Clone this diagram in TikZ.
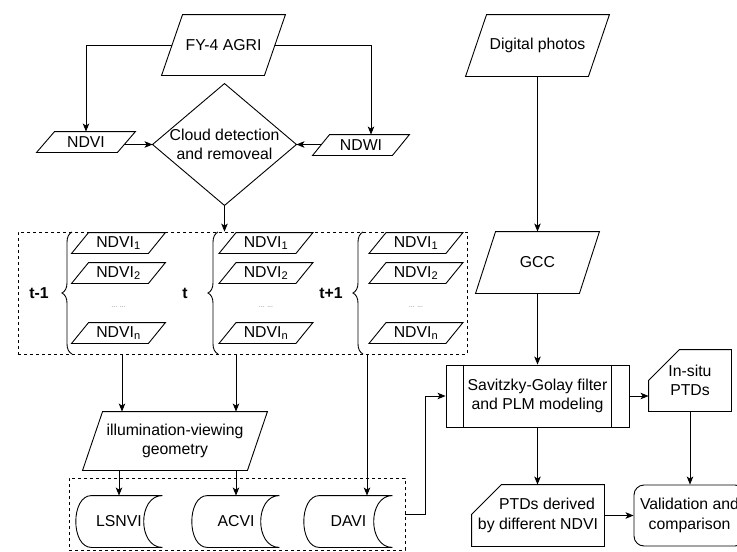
\documentclass[tikz,border=0pt]{standalone}
\usepackage{fontspec}
\setmainfont{Liberation Sans}
\usetikzlibrary{arrows.meta,decorations.pathreplacing,calc}
\newcommand\parashape[2]{\draw ([xshift=#2]#1.north west) -- (#1.north east) -- ([xshift=-#2]#1.south east) -- (#1.south west) -- cycle;}
\newcommand\diashape[1]{\draw (#1.north) -- (#1.east) -- (#1.south) -- (#1.west) -- cycle;}
\newcommand\storeshape[2]{\draw ([xshift=#2]#1.north west) -- (#1.north east)
   .. controls ([xshift=-25pt]#1.north east) and ([xshift=-25pt]#1.south east) .. (#1.south east)
   -- ([xshift=#2]#1.south west)
   .. controls ([xshift=#2-21pt]#1.south west) and ([xshift=#2-21pt]#1.north west) .. ([xshift=#2]#1.north west) -- cycle;}
\newcommand\cardshape[2]{\draw ([yshift=-#2]#1.north west) -- ([xshift=#2]#1.north west) -- (#1.north east) -- (#1.south east) -- (#1.south west) -- cycle;}
\begin{document}
\begin{tikzpicture}[x=1pt,y=-1pt,line width=0.9pt,
  font=\fontsize{15.8}{19.5}\selectfont,
  >={Stealth[length=8pt,width=6.5pt,inset=2pt]},
  shp/.style={inner sep=0pt,align=center},
  dashbox/.style={draw,dash pattern=on 3pt off 3pt,line width=0.8pt,inner sep=0pt},
  tlabel/.style={font=\fontsize{15.8}{19}\selectfont\bfseries},
  dotlabel/.style={font=\fontsize{7}{8}\selectfont,text=gray},
  bracestyle/.style={decorate,decoration={brace,amplitude=10pt}},
  conn/.style={->}]
\useasboundingbox (0,0) rectangle (737,552);
\clip (0,0) rectangle (737,552);

% ---------- top left ----------
\node[shp,minimum width=123pt,minimum height=60pt] (fy) at (223.5,45) {FY-4 AGRI};
\parashape{fy}{21pt}
\node[shp,minimum width=98pt,minimum height=20pt] (ndvi) at (86,142) {NDVI};
\parashape{ndvi}{18pt}
\node[shp,minimum width=96pt,minimum height=20pt] (ndwi) at (361,145) {NDWI};
\parashape{ndwi}{17pt}
\node[shp,minimum width=143pt,minimum height=121pt] (dia) at (224.5,144.5) {Cloud detection\\and removeal};
\diashape{dia}

\draw[conn] ([xshift=10.5pt]fy.west) -| (ndvi.north);
\draw[conn] ([xshift=-10.5pt]fy.east) -| ([xshift=10pt]ndwi.north);
\draw[conn] ([xshift=-11pt]ndvi.east |- dia.west) -- (dia.west);
\draw[conn] ([xshift=9pt]ndwi.west |- dia.east) -- (dia.east);

% ---------- time groups ----------
\node[dashbox,minimum width=449pt,minimum height=122pt] (grp) at (242.5,293) {};
\draw[conn] (dia.south) -- (dia.south |- grp.north);

\foreach \g/\cx in {a/118.5,b/266,c/416}{
  \node[shp,minimum width=93pt,minimum height=20pt] (\g1) at (\cx,243) {NDVI\textsubscript{1}};
  \parashape{\g1}{17pt}
  \node[shp,minimum width=93pt,minimum height=20pt] (\g2) at (\cx,273) {NDVI\textsubscript{2}};
  \parashape{\g2}{17pt}
  \node[shp,dotlabel] (\g d) at (\cx,307) {... ...};
  \node[shp,minimum width=93pt,minimum height=20pt] (\g n) at (\cx,333) {NDVI\textsubscript{n}};
  \parashape{\g n}{17pt}
}
\draw[bracestyle] (72,354) -- (72,232);
\draw[bracestyle] (218,354) -- (218,232);
\draw[bracestyle] (363,354) -- (363,232);
\node[tlabel] (t1) at (39,293) {t-1};
\node[tlabel] (t2) at (185,293) {t};
\node[tlabel] (t3) at (331,293) {t+1};

% ---------- geometry and indices ----------
\node[shp,minimum width=184pt,minimum height=58pt] (illum) at (175,441) {illumination-viewing\\geometry};
\parashape{illum}{20pt}

\node[dashbox,minimum width=336pt,minimum height=72pt] (stor) at (237,514) {};

\node[shp,minimum width=86pt,minimum height=51pt] (lsnvi) at (119,521.5) {LSNVI};
\storeshape{lsnvi}{16pt}
\node[shp,minimum width=86pt,minimum height=51pt] (acvi) at (236,521.5) {ACVI};
\storeshape{acvi}{15pt}
\node[shp,minimum width=87pt,minimum height=51pt] (davi) at (348.5,521.5) {DAVI};
\storeshape{davi}{15pt}

\coordinate (c1) at (122,0);
\coordinate (c2) at (236,0);
\coordinate (c3) at (367,0);
\draw[conn] (grp.south -| c1) -- (illum.north -| c1);
\draw[conn] (grp.south -| c2) -- (illum.north -| c2);
\draw[conn] (grp.south -| c3) -- (davi.north -| c3);
\draw[conn] (illum.south -| lsnvi.north) -- (lsnvi.north);
\draw[conn] (illum.south -| acvi.north) -- (acvi.north);

% ---------- right side ----------
\node[shp,minimum width=143pt,minimum height=61pt] (dp) at (537.5,45.5) {Digital photos};
\parashape{dp}{21pt}
\node[shp,minimum width=123pt,minimum height=61pt] (gcc) at (537.5,262.5) {GCC};
\parashape{gcc}{20pt}
\node[shp,draw,minimum width=183pt,minimum height=62pt] (sg) at (537.5,396) {Savitzky-Golay filter\\and PLM modeling};
\draw ([xshift=18pt]sg.north west) -- ([xshift=18pt]sg.south west);
\draw ([xshift=-18pt]sg.north east) -- ([xshift=-18pt]sg.south east);
\node[shp,minimum width=82pt,minimum height=61pt] (insitu) at (690,380.5) {In-situ\\PTDs};
\cardshape{insitu}{31pt}
\node[shp,minimum width=132pt,minimum height=61pt] (ptd) at (538,515.5) {\hspace*{18pt}PTDs derived\\by different NDVI};
\cardshape{ptd}{30pt}
\node[shp,draw,rounded corners=10pt,minimum width=111pt,minimum height=61pt] (val) at (689.5,515.5) {Validation and\\comparison};

\draw[conn] (dp.south) -- (gcc.north);
\draw[conn] (gcc.south) -- (sg.north);
\draw[conn] (sg.east) -- (sg.east -| insitu.west);
\draw[conn] (insitu.south) -- (insitu.south |- val.north);
\draw[conn] (sg.south) -- (sg.south |- ptd.north);
\draw[conn] (ptd.east) -- (val.west);
\draw[conn] (stor.east) -- ++(20,0) |- (sg.west);
\end{tikzpicture}
\end{document}
